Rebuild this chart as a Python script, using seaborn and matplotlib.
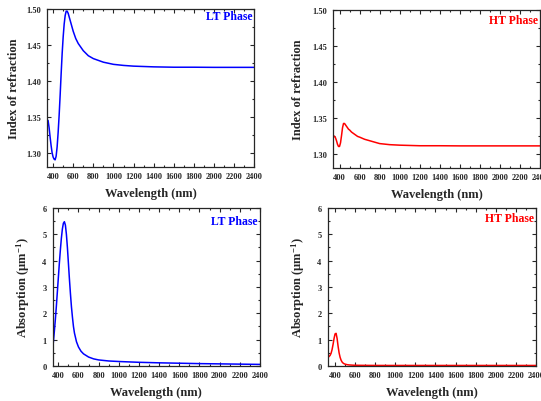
import numpy as np
import pandas as pd
import matplotlib
matplotlib.use('Agg')
import matplotlib.pyplot as plt
import seaborn as sns
from matplotlib.ticker import AutoMinorLocator, MultipleLocator, FormatStrFormatter

# --- data ---
wl_lt = [350, 360, 370, 380, 390, 400, 410, 420, 430, 440, 450, 460, 470, 480, 490,
         500, 510, 520, 530, 540, 550, 560, 580, 600, 625, 650, 700, 750, 800, 900,
         1000, 1100, 1200, 1400, 1600, 1800, 2000, 2200, 2400]
n_lt = [1.345, 1.335, 1.322, 1.310, 1.300, 1.294, 1.291, 1.290, 1.295, 1.308, 1.328,
        1.352, 1.380, 1.410, 1.438, 1.461, 1.479, 1.491, 1.497, 1.497, 1.494, 1.489,
        1.479, 1.469, 1.459, 1.452, 1.442, 1.435, 1.431, 1.426, 1.423, 1.4215, 1.4205,
        1.4195, 1.419, 1.419, 1.4188, 1.4188, 1.4188]
abs_lt = [0.88, 1.30, 1.75, 2.25, 2.80, 3.35, 3.90, 4.40, 4.85, 5.20, 5.42, 5.48, 5.35,
          5.00, 4.50, 3.90, 3.30, 2.75, 2.25, 1.85, 1.50, 1.25, 0.92, 0.72, 0.56, 0.46,
          0.34, 0.27, 0.23, 0.19, 0.17, 0.155, 0.14, 0.12, 0.105, 0.09, 0.08, 0.07, 0.06]

wl_ht = [330, 340, 350, 360, 370, 380, 390, 400, 410, 420, 430, 440, 450, 460, 470,
         480, 490, 500, 520, 540, 560, 580, 600, 650, 700, 800, 900, 1000, 1200, 1400,
         1600, 1800, 2000, 2200, 2400]
n_ht = [1.325, 1.325, 1.324, 1.322, 1.318, 1.313, 1.310, 1.310, 1.315, 1.325, 1.336,
        1.342, 1.342, 1.340, 1.338, 1.336, 1.334, 1.333, 1.330, 1.328, 1.326, 1.324,
        1.323, 1.320, 1.318, 1.314, 1.3125, 1.3118, 1.311, 1.311, 1.3108, 1.3108,
        1.3108, 1.3108, 1.3108]
abs_ht = [0.33, 0.36, 0.40, 0.48, 0.62, 0.82, 1.05, 1.22, 1.24, 1.05, 0.75, 0.50, 0.33,
          0.22, 0.15, 0.11, 0.085, 0.07, 0.05, 0.04, 0.035, 0.03, 0.028, 0.025, 0.023,
          0.021, 0.02, 0.02, 0.02, 0.02, 0.02, 0.02, 0.02, 0.02, 0.02]

df_lt = pd.DataFrame({'wl': wl_lt, 'n': n_lt, 'abs': abs_lt})
df_ht = pd.DataFrame({'wl': wl_ht, 'n': n_ht, 'abs': abs_ht})

sns.set_theme(style='ticks')
plt.rcParams['font.family'] = ['Liberation Serif', 'DejaVu Serif']
plt.rcParams['font.weight'] = 'bold'
plt.rcParams['axes.labelweight'] = 'bold'
plt.rcParams['mathtext.fontset'] = 'custom'
plt.rcParams['mathtext.rm'] = 'Liberation Serif:bold'
plt.rcParams['mathtext.bf'] = 'Liberation Serif:bold'
plt.rcParams['mathtext.it'] = 'Liberation Serif:bold'

fig = plt.figure(figsize=(5.41, 4.02), dpi=100)

panels = [
    dict(rect=[0.087, 0.582, 0.383, 0.393], df=df_lt, col='n', color='#0000FF',
         xmin=340, ylim=(1.28, 1.50), ymaj=0.05, fmt='%.2f', label='Index of refraction',
         tag='LT Phase', ty=0.995, lx=-0.13),
    dict(rect=[0.6155, 0.5796, 0.383, 0.393], df=df_ht, col='n', color='#FF0000',
         xmin=335, ylim=(1.28, 1.50), ymaj=0.05, fmt='%.2f', label='Index of refraction',
         tag='HT Phase', ty=0.975, lx=-0.14),
    dict(rect=[0.0974, 0.0871, 0.383, 0.393], df=df_lt, col='abs', color='#0000FF',
         xmin=344, ylim=(0, 6), ymaj=1, fmt='%d', label='Absorption (µm$^{-1}$)',
         tag='LT Phase', ty=0.955, lx=-0.10),
    dict(rect=[0.606, 0.0871, 0.3845, 0.393], df=df_ht, col='abs', color='#FF0000',
         xmin=328, ylim=(0, 6), ymaj=1, fmt='%d', label='Absorption (µm$^{-1}$)',
         tag='HT Phase', ty=0.975, lx=-0.10),
]

for p in panels:
    ax = fig.add_axes(p['rect'])
    sns.lineplot(data=p['df'], x='wl', y=p['col'], ax=ax, color=p['color'],
                 linewidth=1.1, estimator=None, sort=False)
    ax.set_xlim(p['xmin'], 2400)
    ax.set_ylim(*p['ylim'])
    ax.xaxis.set_major_locator(MultipleLocator(200))
    ax.xaxis.set_minor_locator(AutoMinorLocator(2))
    ax.yaxis.set_major_locator(MultipleLocator(p['ymaj']))
    ax.yaxis.set_minor_locator(AutoMinorLocator(2))
    ax.yaxis.set_major_formatter(FormatStrFormatter(p['fmt']))
    ax.tick_params(which='both', direction='in', top=True, right=True,
                   labelsize=6, width=0.8)
    ax.tick_params(axis='x', which='major', pad=3.5)
    ax.tick_params(axis='y', which='major', pad=4.5)
    ax.tick_params(which='major', length=3)
    ax.tick_params(which='minor', length=1.5)
    for lab in ax.get_xticklabels() + ax.get_yticklabels():
        lab.set_fontweight('bold')
    for s in ax.spines.values():
        s.set_linewidth(0.9)
    ax.set_xlabel('Wavelength (nm)', fontsize=9, fontweight='bold')
    ax.set_ylabel(p['label'], fontsize=9, fontweight='bold')
    ax.xaxis.set_label_coords(0.5, -0.125)
    ax.yaxis.set_label_coords(p['lx'], 0.5)
    ax.text(0.99, p['ty'], p['tag'], transform=ax.transAxes, ha='right', va='top',
            color=p['color'], fontsize=8.5, fontweight='bold')

plt.savefig('out.png', dpi=100)
plt.close()
